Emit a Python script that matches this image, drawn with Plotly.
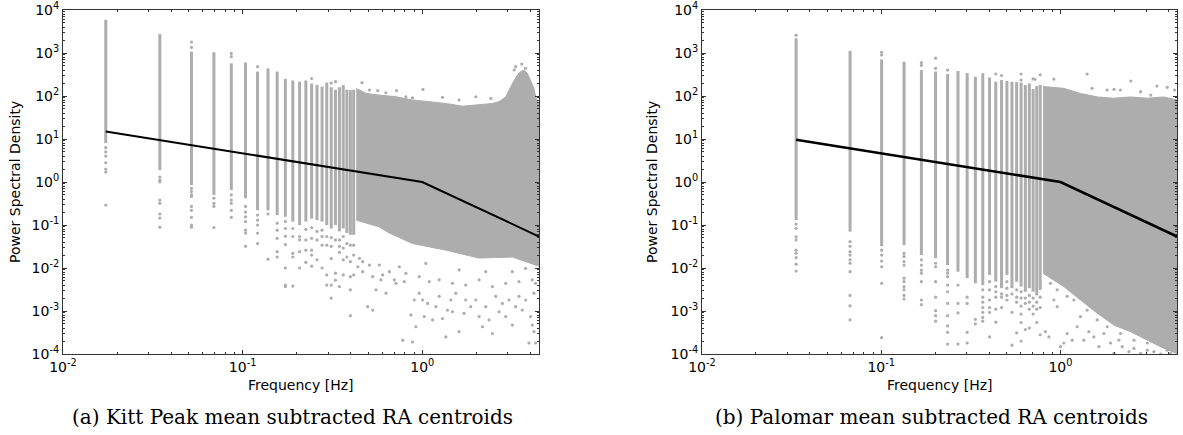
import plotly.graph_objects as go

# ---------------- data ----------------
# (a) Kitt Peak : discrete low-frequency columns
KP_col_freq = [0.0173, 0.0346, 0.0519, 0.0692, 0.0865, 0.1038, 0.1211, 0.1384,
               0.1557, 0.1730, 0.1903, 0.2076, 0.2249, 0.2422, 0.2595, 0.2768,
               0.2941, 0.3114, 0.3287, 0.3460, 0.3633, 0.3806, 0.3979, 0.4152]
KP_col_top = [5900, 2750, 1070, 1040, 575, 600, 370, 440, 370, 250, 230, 215,
              230, 195, 180, 165, 205, 160, 140, 160, 180, 140, 137, 140]
KP_col_bot = [8.0, 1.9, 0.85, 0.50, 0.65, 0.42, 0.22, 0.22, 0.17, 0.155, 0.12, 0.10,
              0.12, 0.14, 0.13, 0.12, 0.10, 0.083, 0.10, 0.071, 0.083, 0.065, 0.059, 0.059]
KP_col_out = [
    [6.3, 5.0, 4.0, 2.8, 2.0, 1.7, 0.29],
    [1.3, 1.1, 1.0, 0.38, 0.32, 0.18, 0.145, 0.089],
    [1800, 1350, 0.71, 0.6, 0.5, 0.46, 0.27, 0.22, 0.15, 0.10, 0.089],
    [0.42, 0.32, 0.27, 0.087],
    [980, 820, 0.50, 0.38, 0.32, 0.22, 0.15],
    [0.27, 0.20, 0.155, 0.12, 0.076, 0.065, 0.032],
    [480, 0.17, 0.13, 0.10, 0.065, 0.037],
    [0.18, 0.016],
    [0.11, 0.076, 0.049, 0.024, 0.018],
    [0.12, 0.083, 0.055, 0.035, 0.010, 0.004, 0.0037],
    [0.083, 0.054, 0.022, 0.018, 0.0038],
    [0.054, 0.045, 0.024, 0.010],
    [0.079, 0.045, 0.026, 0.0135],
    [255, 0.087, 0.049, 0.026, 0.020, 0.011],
    [0.071, 0.045, 0.0155],
    [0.076, 0.054, 0.034, 0.010],
    [0.054, 0.034, 0.0069, 0.004],
    [200, 0.051, 0.032, 0.0166, 0.004, 0.002],
    [215, 0.045, 0.0076, 0.0052],
    [0.045, 0.032, 0.023, 0.0037],
    [0.054, 0.029, 0.0155, 0.0069],
    [0.037, 0.018],
    [0.034, 0.014, 0.0063, 0.0031, 0.00078],
    [0.034, 0.020, 0.0069],
]
# (a) dense high-frequency cloud: upper and lower envelopes
KP_up_f = [0.429, 0.487, 0.577, 0.714, 0.883, 1.093, 1.354, 1.675, 2.074, 2.46, 2.68,
           2.92, 3.11, 3.25, 3.39, 3.53, 3.69, 3.85, 4.01, 4.19, 4.28, 4.37, 4.47]
KP_up_v = [150, 115, 105, 96, 81, 74, 67, 58, 62, 67, 74,
           96, 165, 235, 310, 370, 400, 335, 235, 150, 96, 74, 70]
KP_lo_f = [0.429, 0.577, 0.656, 0.883, 1.354, 2.074, 3.18, 4.47]
KP_lo_v = [0.13, 0.09, 0.065, 0.037, 0.026, 0.017, 0.018, 0.011]
# (a) scattered points around the dense cloud
KP_sc_f = [0.438, 0.447, 0.466, 0.497, 0.508, 0.530, 0.553, 0.577, 0.589, 0.628, 0.656,
           0.699, 0.714, 0.778, 0.794, 0.865, 0.883, 0.902, 0.922, 0.962, 1.004, 1.026,
           1.071, 1.141, 1.191, 1.242, 1.297, 1.353, 1.383, 1.442, 1.473, 1.538, 1.604,
           1.709, 1.746, 1.862, 1.986, 2.073, 2.163, 2.258, 2.355, 2.458, 2.565, 2.677,
           2.793, 2.915, 3.042, 3.174, 3.312, 3.456, 3.606, 3.764, 3.927, 4.012, 4.098,
           4.186, 4.276, 4.186, 4.276,
           0.466, 0.530, 0.602, 0.745, 0.811, 0.962, 1.094, 1.242, 1.473, 1.746, 2.073,
           2.458, 2.915, 3.456, 4.098, 1.047, 1.604, 2.258, 3.174, 3.764,
           0.462, 0.508, 0.565, 0.628, 0.720, 0.811, 0.883, 1.010, 1.297, 1.604, 1.986,
           2.41, 3.31, 3.58, 3.76, 3.25]
KP_sc_v = [0.0107, 0.0168, 0.0140, 0.00126, 0.0117, 0.00105, 0.0031, 0.0117, 0.0053, 0.0026, 0.0082,
           0.0053, 0.0044, 0.00021, 0.0048, 0.00081, 0.00019, 0.0018, 0.00043, 0.0026, 0.0018, 0.00074,
           0.0015, 0.00062, 0.00126, 0.0022, 0.00067, 0.00025, 0.00105, 0.0018, 0.00096, 0.0026, 0.00033,
           0.00088, 0.0018, 0.00126, 0.0018, 0.00074, 0.00043, 0.00126, 0.00062, 0.00030, 0.0022, 0.00096,
           0.0015, 0.00074, 0.0018, 0.00047, 0.00126, 0.0022, 0.00105, 0.0018, 0.00018, 0.00074, 0.00047,
           0.00033, 0.00018, 0.0026, 0.0044,
           0.0082, 0.0063, 0.0069, 0.0107, 0.0075, 0.0063, 0.0048, 0.0053, 0.0044, 0.0040, 0.0053,
           0.0037, 0.0044, 0.0048, 0.0053, 0.0128, 0.0090, 0.0082, 0.0082, 0.0098,
           204, 138, 133, 119, 133, 96, 91, 143, 93, 81, 96,
           88, 481, 555, 440, 403]
KP_fit_f = [0.0173, 1.0, 4.47]
KP_fit_v = [15.0, 1.0, 0.054]

# (b) Palomar
PA_col_freq = [0.0335, 0.0670, 0.1005, 0.1340, 0.1675, 0.2010, 0.2345, 0.2680,
               0.3015, 0.3350, 0.3685, 0.4020, 0.4355, 0.4690, 0.5025, 0.5360,
               0.5695, 0.6030, 0.6365, 0.6700, 0.7035, 0.7370, 0.7705]
PA_col_top = [2200, 1120, 710, 630, 400, 370, 325, 380, 340, 280, 340, 270,
              215, 235, 225, 215, 210, 205, 180, 195, 145, 170, 180]
PA_col_bot = [0.13, 0.070, 0.032, 0.034, 0.020, 0.0168, 0.0117, 0.0082, 0.0058, 0.0044,
              0.0040, 0.0069, 0.0048, 0.0034, 0.0069, 0.0034, 0.0048, 0.0037, 0.0028,
              0.0034, 0.0028, 0.0023, 0.0031]
PA_col_out = [
    [2600, 0.105, 0.084, 0.053, 0.045, 0.026, 0.022, 0.0174, 0.0123, 0.0085],
    [0.041, 0.032, 0.024, 0.020, 0.0155, 0.0129, 0.0082, 0.0023, 0.00131, 0.00062],
    [1040, 900, 0.026, 0.020, 0.0145, 0.0107, 0.0044, 0.00024],
    [0.022, 0.0184, 0.0141, 0.0117, 0.0058, 0.0048, 0.0037, 0.0031, 0.0023, 0.0019],
    [600, 515, 0.0155, 0.0117, 0.0089, 0.0076, 0.0048, 0.0018, 0.0014],
    [760, 440, 0.0129, 0.0107, 0.0048, 0.0021, 0.00102, 0.00078, 0.00058],
    [400, 0.0089, 0.0076, 0.0063, 0.0040, 0.0028, 0.0015, 0.00078, 0.00045, 0.00032, 0.00017],
    [0.0040, 0.0015, 0.00090, 0.00017],
    [0.0021, 0.0015, 0.00032, 0.00018],
    [0.00064, 0.00050],
    [0.0031, 0.0021, 0.0016, 0.0012, 0.00093, 0.00071, 0.00058],
    [0.0048, 0.0031, 0.0018, 0.0012, 0.00093, 0.00025],
    [325, 0.0037, 0.0028, 0.0021, 0.0011, 0.00055],
    [300, 0.0025, 0.0021, 0.0012],
    [0.0048, 0.0034, 0.0023, 0.0018],
    [0.0025, 0.00093, 0.00016],
    [0.0031, 0.0021, 0.0016, 0.00031],
    [325, 235, 0.0028, 0.0020, 0.0013, 0.00085, 0.00054, 0.00020],
    [0.0020, 0.0015, 0.00037],
    [0.0023, 0.0016, 0.0011, 0.00040],
    [250, 0.0020, 0.0013, 0.00085],
    [0.0016, 0.0011, 0.00054],
    [310, 0.0021, 0.0012, 0.00028],
]
PA_up_f = [0.80, 1.04, 1.29, 1.61, 1.98, 2.46, 3.06, 3.76, 4.47]
PA_up_v = [166, 151, 115, 95, 89, 95, 89, 95, 81]
PA_lo_f = [0.80, 1.043, 1.293, 1.603, 1.986, 2.46, 3.05, 3.78, 4.39, 4.47]
PA_lo_v = [0.0075, 0.0037, 0.0018, 0.00089, 0.00047, 0.00033, 0.00021, 0.000135, 0.000105, 0.0001]
PA_sc_f = [0.824, 0.861, 0.918, 0.958, 1.00, 1.044, 1.089, 1.162, 1.239, 1.292, 1.349,
           1.439, 1.535, 1.637, 1.746, 1.902, 1.986, 2.118, 2.211, 2.409, 2.570, 2.801,
           3.05, 3.32, 3.62, 3.94, 4.11,
           0.879, 0.958, 1.089, 1.187, 1.408, 1.602, 1.822, 2.163, 2.570, 3.05,
           0.918, 1.408, 2.47, 1.50, 1.82, 1.99, 2.16, 2.80, 3.19, 3.45, 3.94, 4.33, 0.72]
PA_sc_v = [0.00033, 0.00025, 0.0018, 0.00126, 0.000148, 0.00018, 0.00030, 0.00021, 0.00043, 0.00074, 0.00021,
           0.00033, 0.00025, 0.000148, 0.00030, 0.00018, 0.000104, 0.00021, 0.000148, 0.000113, 0.000135, 0.000104,
           0.000123, 0.000113, 0.000100, 0.000123, 0.000104,
           0.0044, 0.0031, 0.0022, 0.0018, 0.00105, 0.00062, 0.00043, 0.00030, 0.00021, 0.00018,
           248, 325, 223, 151, 138, 143, 138, 126, 105, 171, 159, 138, 244]
PA_fit_f = [0.0335, 1.0, 4.47]
PA_fit_v = [9.6, 1.0, 0.054]

Y_TICKS = [1e-4, 1e-3, 1e-2, 1e-1, 1, 10, 100, 1000, 10000]
Y_LABELS = ["10<sup>-4</sup>", "10<sup>-3</sup>", "10<sup>-2</sup>", "10<sup>-1</sup>",
            "10<sup>0</sup>", "10<sup>1</sup>", "10<sup>2</sup>", "10<sup>3</sup>", "10<sup>4</sup>"]
X_TICKS = [0.01, 0.1, 1]
X_LABELS = ["10<sup>-2</sup>", "10<sup>-1</sup>", "10<sup>0</sup>"]
CAPTIONS = ["(a) Kitt Peak mean subtracted RA centroids", "(b) Palomar mean subtracted RA centroids"]

# ---------------- figure ----------------
GREY = "#adadad"
W, H = 1183, 435
fig = go.Figure()


def add_panel(xa, ya, cf, ct, cb, co, uf, uv, lf, lv, sf, sv, ff, fv, lw):
    cx, cy = [], []
    for f, lo, hi in zip(cf, cb, ct):
        cx += [f, f, None]
        cy += [lo, hi, None]
    fig.add_trace(go.Scatter(x=cx, y=cy, mode="lines", line=dict(color=GREY, width=3),
                             xaxis=xa, yaxis=ya, hoverinfo="skip"))
    fig.add_trace(go.Scatter(x=uf + lf[::-1], y=uv + lv[::-1], mode="lines", fill="toself",
                             fillcolor=GREY, line=dict(color=GREY, width=1),
                             xaxis=xa, yaxis=ya, hoverinfo="skip"))
    ox, oy = [], []
    for f, vals in zip(cf, co):
        for v in vals:
            ox.append(f)
            oy.append(v)
    fig.add_trace(go.Scatter(x=ox + sf, y=oy + sv, mode="markers",
                             marker=dict(color=GREY, size=3.2, line=dict(width=0)),
                             xaxis=xa, yaxis=ya, hoverinfo="skip"))
    fig.add_trace(go.Scatter(x=ff, y=fv, mode="lines", line=dict(color="black", width=lw),
                             xaxis=xa, yaxis=ya))


add_panel("x", "y", KP_col_freq, KP_col_top, KP_col_bot, KP_col_out, KP_up_f, KP_up_v,
          KP_lo_f, KP_lo_v, KP_sc_f, KP_sc_v, KP_fit_f, KP_fit_v, 2)
add_panel("x2", "y2", PA_col_freq, PA_col_top, PA_col_bot, PA_col_out, PA_up_f, PA_up_v,
          PA_lo_f, PA_lo_v, PA_sc_f, PA_sc_v, PA_fit_f, PA_fit_v, 2.6)

x_minor = [m * d for d in [0.01, 0.1, 1] for m in range(2, 10)]
y_minor = [m * d for d in Y_TICKS[:-1] for m in range(2, 10)]
AX = dict(showline=True, linecolor="#333333", linewidth=1, mirror="ticks",
          ticks="inside", ticklen=4, tickcolor="#333333", showgrid=False, zeroline=False,
          automargin=False,
          tickfont=dict(family="DejaVu Sans", size=14, color="black"))
MINOR = dict(ticks="inside", ticklen=2, tickcolor="#333333", tickmode="array")

yb, yt = 1 - 354 / H, 1 - 10 / H
fig.update_layout(
    width=W, height=H, margin=dict(l=0, r=0, t=0, b=0, autoexpand=False),
    paper_bgcolor="white", plot_bgcolor="white", showlegend=False,
    xaxis=dict(type="log", range=[-2, 0.65], domain=[63 / W, 539 / W], anchor="y",
               tickmode="array", tickvals=X_TICKS, ticktext=X_LABELS,
               minor=dict(tickvals=x_minor, **MINOR), **AX),
    yaxis=dict(type="log", range=[-4, 4], domain=[yb, yt], anchor="x",
               tickmode="array", tickvals=Y_TICKS, ticktext=Y_LABELS,
               minor=dict(tickvals=y_minor, **MINOR), **AX),
    xaxis2=dict(type="log", range=[-2, 0.65], domain=[702 / W, 1177 / W], anchor="y2",
                tickmode="array", tickvals=X_TICKS, ticktext=X_LABELS,
                minor=dict(tickvals=x_minor, **MINOR), **AX),
    yaxis2=dict(type="log", range=[-4, 4], domain=[yb, yt], anchor="x2",
                tickmode="array", tickvals=Y_TICKS, ticktext=Y_LABELS,
                minor=dict(tickvals=y_minor, **MINOR), **AX),
)

ann = []
for cx, ylx in [(301, 15), (939.5, 652)]:
    ann.append(dict(text="Frequency [Hz]", x=cx / W, y=1 - 385 / H, xref="paper", yref="paper",
                    xanchor="center", yanchor="middle",
                    showarrow=False, font=dict(family="DejaVu Sans", size=14, color="black")))
    ann.append(dict(text="Power Spectral Density", x=ylx / W, y=1 - 182 / H, xref="paper", yref="paper",
                    xanchor="center", yanchor="middle",
                    showarrow=False, textangle=-90, font=dict(family="DejaVu Sans", size=14, color="black")))
for cap, cx in zip(CAPTIONS, [292.5, 931.5]):
    ann.append(dict(text=cap, x=cx / W, y=1 - 417 / H, xref="paper", yref="paper", showarrow=False,
                    xanchor="center", yanchor="middle",
                    font=dict(family="DejaVu Serif", size=20, color="black")))
fig.update_layout(annotations=ann)

fig.write_html("out.html", config={"displayModeBar": False},
               post_script="document.body.style.margin='0px';document.body.style.overflow='hidden';")
